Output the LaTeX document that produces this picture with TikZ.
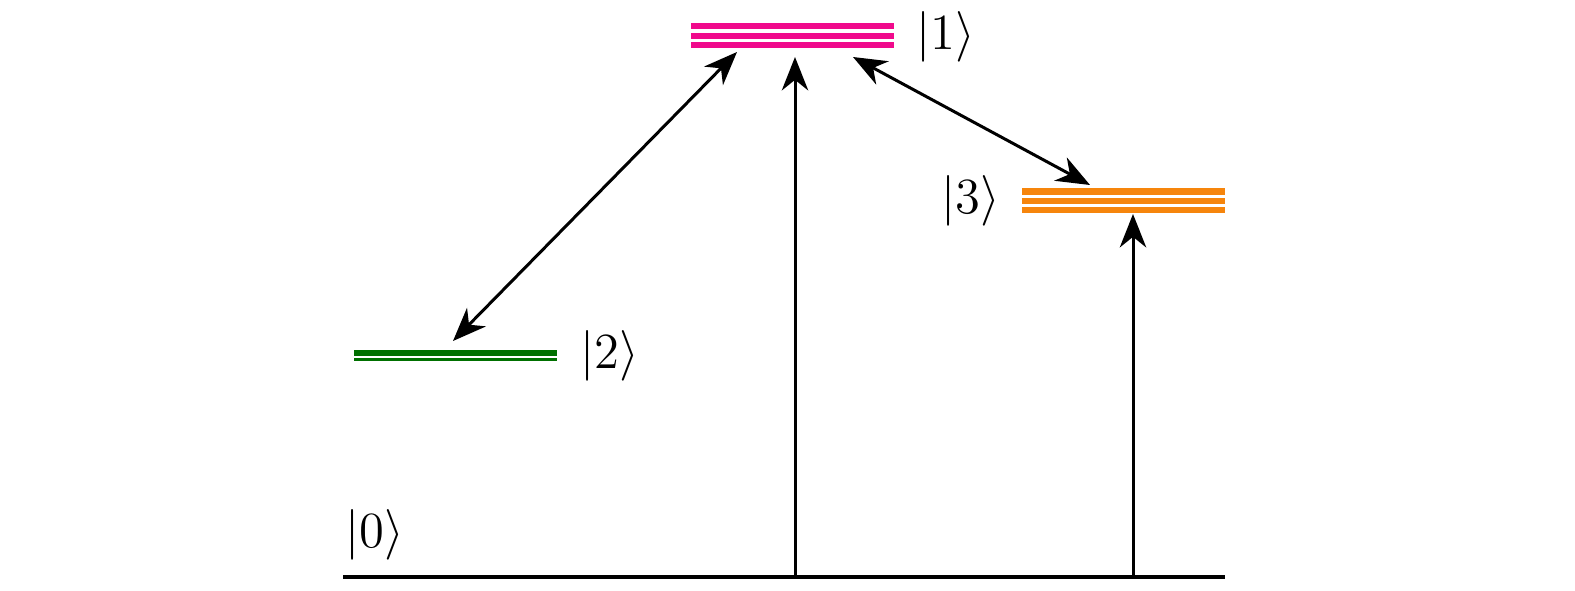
\RequirePackage{fix-cm}
\documentclass[tikz,border=0pt]{standalone}
\usepackage{tikz}
\usetikzlibrary{arrows.meta,positioning,calc}
\definecolor{pinklvl}{RGB}{240,10,140}
\definecolor{orangelvl}{RGB}{246,133,12}
\definecolor{greenlvl}{RGB}{0,112,0}
\tikzset{x=0.01cm, y=-0.01cm, % one unit is one pixel of the layout
        level/.style={ % Sets the properties for each energy level
            line width=1.8pt},
        ground/.style={
            line width=1pt},
        ket/.style={ % Labels of the states
            inner sep=0pt,
            font=\fontsize{14.4}{17}\selectfont},
        trans/.style={ % Sets the properties for each transition
            draw,
            line width=0.85pt,
            -{Stealth[length=9.5pt,width=7.5pt,inset=3pt]}},
        both/.style={
            trans,
            {Stealth[length=9.5pt,width=7.5pt,inset=3pt]}-{Stealth[length=9.5pt,width=7.5pt,inset=3pt]}}
        }
\begin{document}
\begin{tikzpicture}
    \useasboundingbox (0,0) rectangle (1575,591);

    % levels
    \draw[ground]                   (343,577) -- (1225,577);
    \draw[level,greenlvl]           (354,352.7) -- (557,352.7);
    \draw[greenlvl,line width=0.85pt] (354,359.5) -- (557,359.5);
    \foreach \y in {26.3,35.7,45}
        \draw[level,pinklvl]        (691,\y) -- (894,\y);
    \foreach \y in {191.5,200.8,210}
        \draw[level,orangelvl]      (1022,\y) -- (1225,\y);

    % labels
    \node[ket] (k0) at (375,535)    {$|0\rangle$};
    \node[ket] (k1) at (946,37)     {$|1\rangle$};
    \node[ket] (k2) at (610,356)    {$|2\rangle$};
    \node[ket] (k3) at (971,201)    {$|3\rangle$};

    % ends of the transitions
    \coordinate (g1) at (795,577);
    \coordinate (g3) at (1133,577);
    \coordinate (u1) at (795,57);
    \coordinate (u3) at (1133,214);
    \coordinate (a1) at (737,52);
    \coordinate (a2) at (453,341);
    \coordinate (b1) at (853,57);
    \coordinate (b3) at (1090,185);

    \draw[trans] (g1) -- (u1);
    \draw[trans] (g3) -- (u3);
    \draw[both]  (a2) -- (a1);
    \draw[both]  (b1) -- (b3);
\end{tikzpicture}
\end{document}
